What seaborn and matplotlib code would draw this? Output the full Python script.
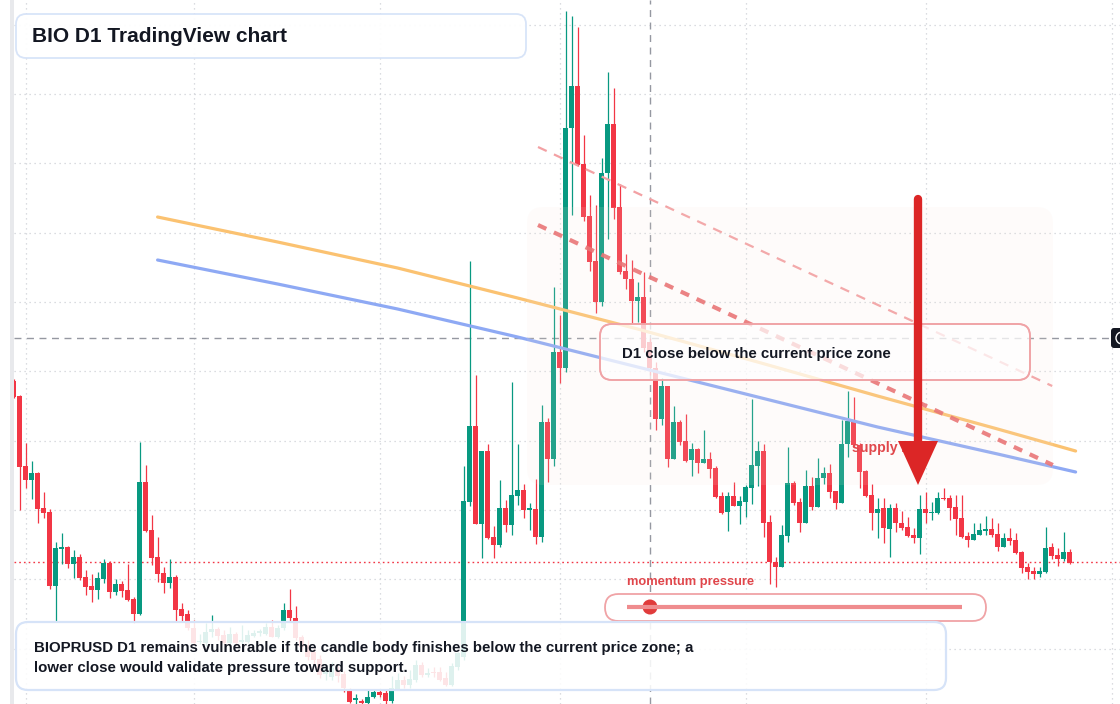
import numpy as np
import pandas as pd
import matplotlib
matplotlib.use("Agg")
import matplotlib.pyplot as plt
from matplotlib.patches import FancyBboxPatch, Rectangle, Circle, Polygon
import seaborn as sns

# daily candles, price in chart ticks (grid every 69.33 ticks)
opens = [337, 322, 252, 238, 245, 210, 206, 132, 169, 171,
         154, 161, 141, 132, 128, 139, 155, 126, 134, 128,
         119, 104, 236, 188, 161, 145, 135, 141, 109, 104,
         90, 76, 75, 86, 89, 83, 75, 84, 76.5, 76,
         82, 85.5, 84, 91, 81, 90, 108, 100, 81, 73,
         66, 59, 44, 41, 48, 44, 27, 18, 17, 15,
         21, 26, 25, 17, 29, 38, 33, 38, 53, 43,
         46, 46, 40, 33, 51, 61, 216, 292, 194, 267,
         181, 173, 210, 193, 222, 228, 208.5, 209, 181, 296,
         259, 366, 350, 590, 632, 554, 502, 457, 416, 545,
         594, 511, 447, 439, 417, 421, 376, 350, 299, 332,
         259, 296, 277, 258, 269, 255, 259, 250, 222, 206,
         222, 212, 216, 230, 252, 267, 196, 156, 151, 182,
         235, 216, 195, 232, 211, 240, 245, 227, 215, 274,
         298, 273, 247, 223, 205, 210, 189, 210, 195, 191,
         183, 180, 209, 205, 205, 220, 220, 211, 200, 182,
         178, 183, 187, 189, 184, 171, 180, 178, 166, 151,
         147, 144, 146, 171, 163, 159, 166]
highs = [339, 323, 275, 257, 246, 226, 209, 176, 185, 172,
         168, 164, 148, 144, 146, 159, 157, 139, 137, 154,
         121, 276, 253, 203, 181, 151, 159, 143, 115, 108,
         98, 84, 95, 103, 91, 88, 91, 86, 93, 88,
         88, 89, 95, 98, 93, 115, 129, 112, 83, 78,
         70, 63, 53, 56, 52, 47, 30, 24, 19, 28,
         29, 28, 28, 42, 45, 42, 48, 58, 56, 50,
         51, 51, 46, 55, 66, 252, 457, 343, 267, 274,
         192, 238, 218, 336, 274, 234, 215, 239, 313, 300,
         431, 403, 707, 702, 691, 583, 523, 513, 560, 646,
         630, 534, 464, 458, 436, 446, 380, 356, 340, 332,
         312, 298, 304, 275, 270, 288, 266, 252, 226, 226,
         236, 222, 233, 319, 277, 274, 203, 161, 193, 271,
         237, 220, 248, 241, 260, 251, 254, 227, 298, 327,
         321, 275, 248, 234, 220, 220, 214, 215, 207, 201,
         190, 223, 226, 216, 226, 230, 223, 223, 223, 186,
         195, 195, 202, 200, 195, 185, 190, 185, 167, 155,
         151, 151, 191, 175, 170, 186, 169]
lows = [320, 208, 230, 219, 195, 200, 129, 96, 154, 150,
        140, 138, 123, 116, 119, 135, 120, 123, 121, 117,
        95, 103, 186, 153, 136, 125, 130, 96, 96, 88,
        73, 74, 72, 81, 78, 73, 73, 73, 74, 75,
        81, 82, 83, 81, 80, 88, 96, 78, 68, 58,
        53, 40, 38, 38, 36, 26, 15, 14, 14, 14,
        20, 21, 14, 15, 28, 30, 30, 36, 41, 41,
        41, 37, 32, 32, 48, 58, 212, 194, 160, 179,
        160, 171, 186, 183, 213, 200, 188, 174, 176, 236,
        252, 335, 346, 503, 552, 497, 447, 405, 412, 479,
        499, 444, 429, 395, 396, 366, 343, 288, 293, 251,
        259, 273, 256, 242, 245, 255, 240, 220, 204, 187,
        212, 194, 201, 214, 232, 181, 134, 131, 151, 176,
        213, 186, 195, 208, 211, 234, 220, 209, 215, 261,
        271, 230, 221, 188, 180, 175, 161, 186, 188, 181,
        175, 164, 195, 198, 204, 218, 198, 183, 180, 171,
        178, 183, 183, 181, 167, 171, 173, 164, 145, 139,
        139, 141, 145, 159, 152, 157, 154]
closes = [321, 251, 238, 245, 209, 205, 132, 170, 171, 154,
          161, 140, 131, 128, 140, 155, 126, 134, 127, 118,
          104, 236, 187, 160, 144, 135, 141, 108, 102, 90,
          75, 77, 86, 89, 82, 75, 84, 75, 77.5, 83,
          85, 86, 91, 81, 90, 108, 100, 80, 71, 61,
          58, 43, 49, 50, 42, 30, 16, 20, 15, 21,
          26, 23, 17, 30, 38, 33, 39, 53, 43, 45,
          45, 38, 33, 52, 65, 217, 292, 194, 267, 180,
          173, 210, 193, 223, 228, 208, 209.5, 181, 296, 259,
          366, 350, 590, 632, 553, 501, 456, 416, 545, 594,
          510, 446, 439, 417, 421, 370, 350, 299, 332, 259,
          296, 276, 257, 269, 255, 259, 249, 221, 205, 222,
          212, 217, 231, 253, 267, 195, 156, 151, 183, 235,
          215, 195, 232, 211, 240, 245, 226, 215, 274, 297,
          273, 246, 222, 205, 209, 190, 210, 195, 190, 182,
          180, 209, 205, 206, 220, 219, 210, 199, 181, 178,
          184, 188, 189, 183, 171, 180, 177, 165, 150, 146,
          144, 147, 170, 162, 159, 166, 155]

start_date = "2025-01-30"

# moving averages sampled along the chart
ma_idx = [24, 44, 64, 84, 104, 124, 144, 164, 177]
ma_slow = [501, 476, 450, 420, 389, 356, 322, 289, 267]
ma_fast = [458, 434, 409, 381, 351, 321, 291, 264, 246]

# drawn trendlines (bar index, price)
trend_upper = ([87.4, 173.1], [571, 332])
trend_lower = ([87.4, 173.2], [493, 253])

last_price = 156
cross_idx = 106
cross_price = 380
grid_step = 69.33

GREEN = "#089981"
RED = "#f23645"

df = pd.DataFrame({"open": opens, "high": highs, "low": lows, "close": closes})
df["date"] = pd.date_range(start_date, periods=len(df), freq="D")
df["i"] = np.arange(len(df))

sns.set_theme(style="white")
plt.rcParams["font.family"] = ["Liberation Sans", "DejaVu Sans"]

fig = plt.figure(figsize=(11.2, 7.04), dpi=100)
fig.patch.set_facecolor("white")
ax = fig.add_axes([14 / 1120, 0, 1106 / 1120, 1])
ax.set_xlim(0.067, 184.4)
ax.set_ylim(14, 718)
ax.axis("off")

# grid: month starts and round price levels
all_days = pd.date_range(start_date, periods=190, freq="D")
month_starts = np.where(all_days.day == 1)[0]
for m in month_starts:
    ax.axvline(m, color="#cfd1d6", lw=0.9, ls=(0, (1, 3)), zorder=0)
for k in range(1, 11):
    ax.axhline(k * grid_step, color="#cfd1d6", lw=0.9, ls=(0, (1, 3)), zorder=0)

# candles
up = df["close"] >= df["open"]
cols = np.where(up, GREEN, RED)
ax.vlines(df["i"], df["low"], df["high"], colors=cols, lw=0.9, zorder=2)
body_lo = np.minimum(df["open"], df["close"])
body_h = np.maximum((df["close"] - df["open"]).abs(), 1.5)
ax.bar(df["i"], body_h, bottom=body_lo, width=0.8, color=cols, lw=0, zorder=3)

# crosshair and last price line
ax.axvline(cross_idx, color="#9598a1", lw=1.0, ls=(0, (5, 4)), zorder=1)
ax.hlines(cross_price, 0, 182.9, color="#9598a1", lw=1.0, ls=(0, (5, 4)), zorder=1)
ax.axhline(last_price, color=RED, lw=1.0, ls=(0, (1.2, 2.2)), zorder=1)

# moving averages
ma = pd.DataFrame({"i": ma_idx, "slow": ma_slow, "fast": ma_fast})
sns.lineplot(data=ma, x="i", y="slow", ax=ax, color="#fbc271", lw=2.3, zorder=5)
sns.lineplot(data=ma, x="i", y="fast", ax=ax, color="#8ea9f4", lw=2.3, zorder=5)
ax.axis("off")

# trendlines
ax.plot(*trend_upper, color="#f3a1a4", lw=1.6, dashes=(4.3, 3.6), zorder=5)
ax.plot(*trend_lower, color="#e8676a", lw=3.0, dashes=(2.2, 2.0), alpha=0.9, zorder=5)

# overlay for annotations in pixel space
ov = fig.add_axes([0, 0, 1, 1], zorder=5)
ov.set_xlim(0, 1120)
ov.set_ylim(704, 0)
ov.axis("off")
ov.patch.set_alpha(0)

ov.add_patch(Rectangle((10, 0), 4, 704, color="#e8e9ec", lw=0))

# supply zone shading
ov.add_patch(FancyBboxPatch((527, 207), 526, 278, boxstyle="round,pad=0,rounding_size=16",
                            facecolor="#f7e6da", edgecolor="none", alpha=0.12))

# title box
ov.add_patch(FancyBboxPatch((16, 14), 510, 44, boxstyle="round,pad=0,rounding_size=10",
                            facecolor="white", edgecolor="#d6e3f8", lw=1.3, alpha=0.95))
ov.text(32, 37, "BIO D1 TradingView chart", fontsize=15, weight="bold",
        color="#131722", va="center", ha="left")

# callout
ov.add_patch(FancyBboxPatch((600, 324), 430, 56, boxstyle="round,pad=0,rounding_size=12",
                            facecolor="white", edgecolor="#f0a3a6", lw=1.3, alpha=0.72))
ov.add_patch(FancyBboxPatch((600, 324), 430, 56, boxstyle="round,pad=0,rounding_size=12",
                            facecolor="none", edgecolor="#f0a3a6", lw=1.3))
ov.text(622, 354, "D1 close below the current price zone", fontsize=10.8, weight="bold",
        color="#131722", va="center", ha="left")

# supply zone label, partly under the arrow
ov.text(852, 448, "supply zone", fontsize=10.2, weight="bold", color="#e0484c",
        va="center", ha="left")

# arrow
ov.plot([918, 918], [199, 444], color="#dc2626", lw=6.0, solid_capstyle="round", zorder=6)
ov.add_patch(Polygon([(898, 441), (938, 441), (918, 485)], closed=True,
                     facecolor="#dc2626", edgecolor="none", zorder=6))

# momentum slider
ov.text(627, 582, "momentum pressure", fontsize=9.3, weight="bold", color="#e0464b",
        va="center", ha="left")
ov.add_patch(FancyBboxPatch((605, 594), 381, 27, boxstyle="round,pad=0,rounding_size=13.5",
                            facecolor="white", edgecolor="#f0a3a6", lw=1.3))
ov.plot([627, 962], [607, 607], color="#ef8c8e", lw=3.0, solid_capstyle="butt")
ov.add_patch(Circle((650, 607), 7.5, color="#e03b3b", lw=0))

# bottom note
ov.add_patch(FancyBboxPatch((16, 622), 930, 68, boxstyle="round,pad=0,rounding_size=12",
                            facecolor="white", edgecolor="none", alpha=0.87))
ov.add_patch(FancyBboxPatch((16, 622), 930, 68, boxstyle="round,pad=0,rounding_size=12",
                            facecolor="none", edgecolor="#d6e3f8", lw=1.6))
ov.text(34, 648, "BIOPRUSD D1 remains vulnerable if the candle body finishes below the current price zone; a",
        fontsize=10.8, weight="bold", color="#131722", va="center", ha="left")
ov.text(34, 668, "lower close would validate pressure toward support.",
        fontsize=10.8, weight="bold", color="#131722", va="center", ha="left")

# crosshair price label stub on the right
ov.add_patch(FancyBboxPatch((1111, 328), 20, 20, boxstyle="round,pad=0,rounding_size=3",
                            facecolor="#131722", edgecolor="none"))
ov.add_patch(Circle((1122, 338), 6, facecolor="none", edgecolor="white", lw=1.0))

fig.savefig("out.png", dpi=100)
